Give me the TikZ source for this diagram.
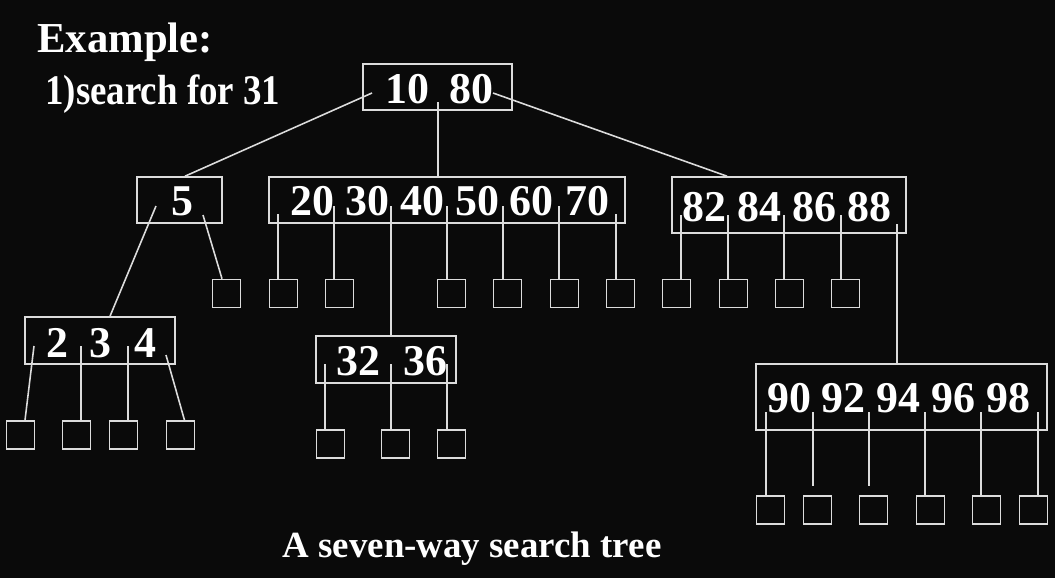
\documentclass[tikz,border=0pt]{standalone}
\usepackage{fontspec}
\setmainfont{Liberation Serif}
\usetikzlibrary{positioning}
\definecolor{bgblack}{HTML}{0A0A0A}
\definecolor{wire}{HTML}{DCDCDC}
\newcommand{\px}{0.02cm}

\begin{document}
\begin{tikzpicture}[x=0.02cm, y=-0.02cm,
  keybox/.style={draw=wire, line width=0.9pt, inner sep=0pt},
  leaf/.style={draw=wire, line width=0.9pt, inner sep=0pt, minimum size=28*\px},
  key/.style={text=white, inner sep=0pt, font=\fontsize{25}{29}\bfseries\selectfont},
  ptr/.style={draw=wire, line width=0.9pt}]
  \fill[bgblack] (0,0) rectangle (1055,578);
  \useasboundingbox (0,0) rectangle (1055,578);

  \node[text=white, anchor=base west, inner sep=0pt, font=\fontsize{24.3}{29}\bfseries\selectfont] (title) at (37,52) {Example:};
  \node[text=white, anchor=base west, inner sep=0pt, font=\fontsize{24}{29}\bfseries\selectfont] (task) at (45,104) {\scalebox{0.875}[1]{1)search for 31}};
  \node[text=white, anchor=base, inner sep=0pt, font=\fontsize{21}{25}\bfseries\selectfont] (caption) at (472,557) {A seven-way search tree};

  % internal nodes
  \node[keybox, minimum width=149*\px, minimum height=46*\px] (root) at (437.5,87) {};
  \node[keybox, minimum width=85*\px, minimum height=46*\px] (b5) at (179.5,200) {};
  \node[keybox, minimum width=356*\px, minimum height=46*\px] (b20) at (447,200) {};
  \node[keybox, minimum width=234*\px, minimum height=56*\px] (b82) at (789,205) {};
  \node[keybox, minimum width=150*\px, minimum height=47*\px] (b2) at (100,340.5) {};
  \node[keybox, minimum width=140*\px, minimum height=47*\px] (b32) at (386,359.5) {};
  \node[keybox, minimum width=291*\px, minimum height=66*\px] (b90) at (901.5,397) {};

  % keys
  \node[key] (k10) at (407,89) {10};
  \node[key] (k80) at (471,89) {80};
  \node[key] (k5) at (182,201) {5};
  \foreach \k/\x in {20/312,30/367,40/422,50/477,60/531,70/587}
    \node[key] (k\k) at (\x,201) {\k};
  \foreach \k/\x in {82/704,84/759,86/814,88/869}
    \node[key] (k\k) at (\x,207) {\k};
  \foreach \k/\x in {2/57,3/100,4/145}
    \node[key] (k\k) at (\x,343) {\k};
  \node[key] (k32) at (358,361) {32};
  \node[key] (k36) at (425,361) {36};
  \foreach \k/\x in {90/789,92/843,94/898,96/953,98/1008}
    \node[key] (k\k) at (\x,398) {\k};

  % external nodes
  \foreach \x [count=\i] in {212,269,325,437,493,550,606,662,719,775,831}
    \node[leaf] (l\i) at (\x+14.5,293.5) {};
  \foreach \x [count=\i] in {6,62,109,166}
    \node[leaf] (m\i) at (\x+14.5,435) {};
  \foreach \x [count=\i] in {316,381,437}
    \node[leaf] (n\i) at (\x+14.5,444) {};
  \foreach \x [count=\i] in {756,803,859,916,972,1019}
    \node[leaf] (o\i) at (\x+14.5,510) {};

  % pointers
  \coordinate (pr1) at (372,93);
  \coordinate (pr2) at (438,102);
  \coordinate (pr3) at (493,93);
  \draw[ptr] (pr1) -- ([xshift=5.5*\px]b5.north);
  \draw[ptr] (pr2) -- (pr2 |- b20.north);
  \draw[ptr] (pr3) -- ([xshift=-62*\px]b82.north);

  \coordinate (p51) at (156,206);
  \coordinate (p52) at (203,215);
  \draw[ptr] (p51) -- ([xshift=10*\px]b2.north);
  \draw[ptr] (p52) -- ([xshift=-4.5*\px]l1.north);

  \foreach \x/\y/\t [count=\i] in {278/214/l2,334/206/l3,391/206/b32,447/206/l4,503/206/l5,559/206/l6,616/214/l7}{
    \coordinate (pb\i) at (\x,\y);
    \draw[ptr] (pb\i) -- (pb\i |- \t.north);
  }
  \foreach \x/\y/\t [count=\i] in {681/215/l8,728/215/l9,784/215/l10,841/215/l11,897/224/b90}{
    \coordinate (pe\i) at (\x,\y);
    \draw[ptr] (pe\i) -- (pe\i |- \t.north);
  }

  \coordinate (pa1) at (34,346);
  \coordinate (pa2) at (81,346);
  \coordinate (pa3) at (128,346);
  \coordinate (pa4) at (166,355);
  \draw[ptr] (pa1) -- ([xshift=4.5*\px]m1.north);
  \draw[ptr] (pa2) -- (pa2 |- m2.north);
  \draw[ptr] (pa3) -- (pa3 |- m3.north);
  \draw[ptr] (pa4) -- ([xshift=4*\px]m4.north);

  \foreach \x/\t [count=\i] in {325/n1,391/n2,447/n3}{
    \coordinate (pc\i) at (\x,364);
    \draw[ptr] (pc\i) -- (pc\i |- \t.north);
  }

  \foreach \x/\t [count=\i] in {766/o1,925/o4,981/o5,1038/o6}{
    \coordinate (pn\i) at (\x,412);
    \draw[ptr] (pn\i) -- (pn\i |- \t.north);
  }
  \coordinate (pn5) at (813,412);
  \coordinate (pn6) at (869,412);
  \coordinate (q5) at (813,486);
  \coordinate (q6) at (869,486);
  \draw[ptr] (pn5) -- (q5);
  \draw[ptr] (pn6) -- (q6);
\end{tikzpicture}
\end{document}
